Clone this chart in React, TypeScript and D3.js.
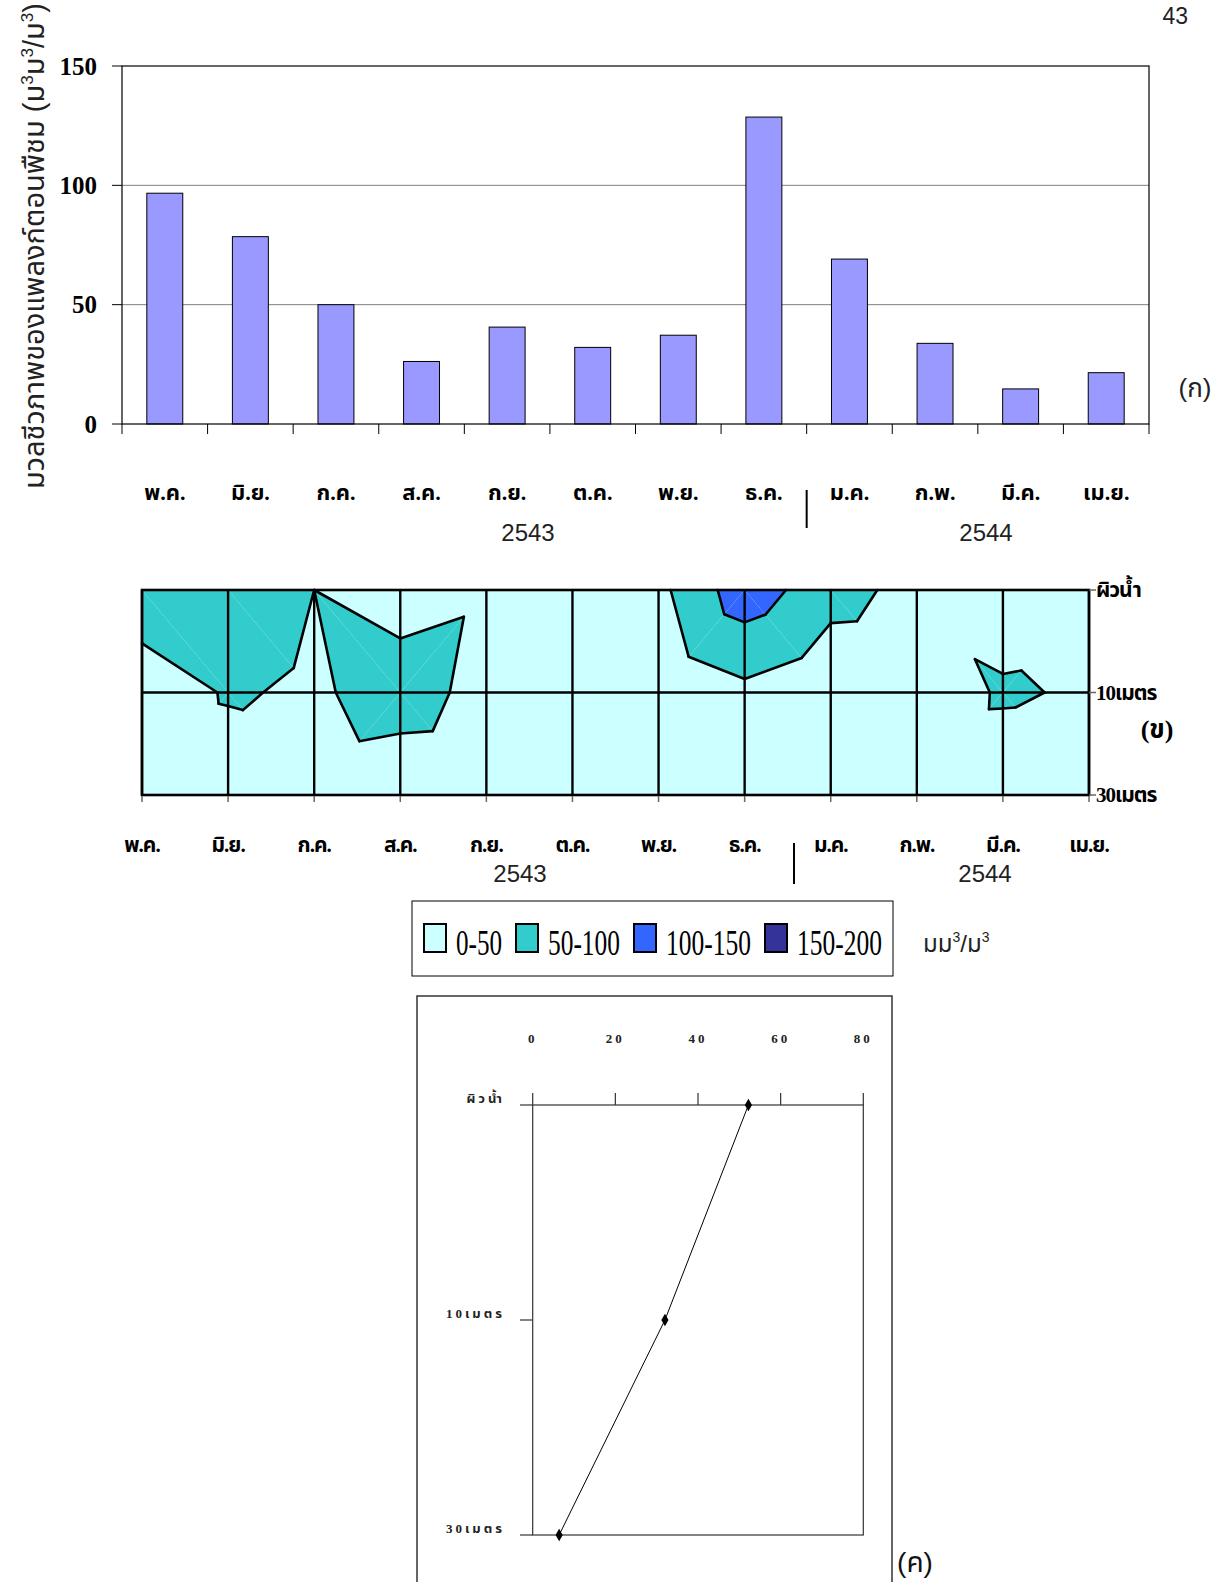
import React, { useEffect, useRef } from "react";
import * as d3 from "d3";

// เดือน (ก) และ (ข)
const months = ["พ.ค.", "มิ.ย.", "ก.ค.", "ส.ค.", "ก.ย.", "ต.ค.", "พ.ย.", "ธ.ค.", "ม.ค.", "ก.พ.", "มี.ค.", "เม.ย."];
const years = ["2543", "2544"];
const yTicks = [0, 50, 100, 150];

// (ก) มวลชีวภาพที่ผิวน้ำ
const biomass = [96.7, 78.5, 50, 26.2, 40.6, 32.1, 37.2, 128.6, 69.1, 33.8, 14.7, 21.5];

// (ข) ค่าที่ระดับความลึก (ผิวน้ำ = biomass)
const depthLabels = ["ผิวน้ำ", "10เมตร", "30เมตร"];
const depth10 = [6.9, 56.1, 41.1, 76.6, 30.3, 11, 7.8, 38, 10, 6.5, 57.8, 41.7];
const depth30 = [0.5, 9.5, 20.6, 10.1, 6.0, 3, 2, 2, 2, 9.6, 7.8, 4.4];
const levels = [0, 50, 100, 150, 200];
const bandLabels = ["0-50", "50-100", "100-150", "150-200"];
const bandColors = ["#ccffff", "#33cccc", "#3366ff", "#333399"];

// (ค) ค่าเฉลี่ยตามความลึก
const profile = [52.2, 32.0, 6.4];
const profileTicks = [0, 20, 40, 60, 80];

const THAI = "'Noto Sans Thai', 'Noto Serif Thai', 'Loma', 'Garuda', 'Norasi', 'Tlwg Typo'";
const SERIF = `'Liberation Serif', 'Times New Roman', ${THAI}, serif`;
const SANS = `'Liberation Sans', Arial, ${THAI}, sans-serif`;

type Pt = { x: number; y: number; v: number };

const clip = (poly: Pt[], lv: number, above: boolean) => {
  const out: Pt[] = [];
  for (let k = 0; k < poly.length; k++) {
    const a = poly[k];
    const b = poly[(k + 1) % poly.length];
    const ia = above ? a.v >= lv : a.v < lv;
    const ib = above ? b.v >= lv : b.v < lv;
    if (ia) out.push(a);
    if (ia !== ib) {
      const t = (lv - a.v) / (b.v - a.v);
      out.push({ x: a.x + t * (b.x - a.x), y: a.y + t * (b.y - a.y), v: lv });
    }
  }
  return out;
};

const App = () => {
  const svgRef = useRef<SVGSVGElement>(null);

  useEffect(() => {
    const svg = d3.select(svgRef.current);
    svg.selectAll("*").remove();

    svg.append("text").attr("x", 1188).attr("y", 24).attr("text-anchor", "end")
      .style("font-family", SANS).style("font-size", "23px").attr("fill", "#222").text("43");

    // ---------- (ก) bar chart ----------
    const x = d3.scaleBand().domain(months).range([122, 1149]);
    const y = d3.scaleLinear().domain([0, 150]).range([424, 66]);
    const gA = svg.append("g");

    gA.selectAll("line.grid").data([50, 100]).join("line")
      .attr("x1", 122).attr("x2", 1149).attr("y1", (d) => y(d)).attr("y2", (d) => y(d))
      .attr("stroke", "#808080").attr("stroke-width", 1);

    gA.selectAll("rect.bar").data(biomass).join("rect")
      .attr("x", (d, i) => x(months[i])! + x.bandwidth() * 0.29)
      .attr("width", x.bandwidth() * 0.42)
      .attr("y", (d) => y(d))
      .attr("height", (d) => y(0) - y(d))
      .attr("fill", "#9999ff").attr("stroke", "#000").attr("stroke-width", 1);

    gA.append("rect").attr("x", 122).attr("y", 66).attr("width", 1027).attr("height", 358)
      .attr("fill", "none").attr("stroke", "#000").attr("stroke-width", 1.2);

    gA.selectAll("line.yt").data(yTicks).join("line")
      .attr("x1", 112).attr("x2", 122).attr("y1", (d) => y(d)).attr("y2", (d) => y(d))
      .attr("stroke", "#000");
    gA.selectAll("text.yl").data(yTicks).join("text")
      .attr("x", 97).attr("y", (d) => y(d)).attr("dy", "0.35em").attr("text-anchor", "end")
      .style("font-family", SERIF).style("font-weight", "bold").style("font-size", "25px")
      .text((d) => d);

    const bounds = [...months.map((m) => x(m)!), 1149];
    gA.selectAll("line.xt").data(bounds).join("line")
      .attr("x1", (d) => d).attr("x2", (d) => d).attr("y1", 424).attr("y2", 434)
      .attr("stroke", "#000");

    gA.selectAll("text.xl").data(months).join("text")
      .attr("x", (d) => x(d)! + x.bandwidth() / 2).attr("y", 500).attr("text-anchor", "middle")
      .style("font-family", SERIF).style("font-weight", "bold").style("font-size", "22px")
      .text((d) => d);

    gA.append("line").attr("x1", x("ม.ค.")!).attr("x2", x("ม.ค.")!).attr("y1", 490).attr("y2", 528)
      .attr("stroke", "#000").attr("stroke-width", 2);
    gA.selectAll("text.yr").data(years).join("text")
      .attr("x", (d, i) => (i === 0 ? 528 : 986)).attr("y", 541).attr("text-anchor", "middle")
      .style("font-family", SANS).style("font-size", "24px").attr("fill", "#222")
      .text((d) => d);

    const title = gA.append("text").attr("transform", "translate(44,246) rotate(-90)")
      .attr("text-anchor", "middle").style("font-family", SANS).style("font-size", "29px")
      .attr("fill", "#222");
    title.append("tspan").text("มวลชีวภาพของแพลงก์ตอนพืชม (ม");
    title.append("tspan").attr("dy", -11).style("font-size", "17px").text("3");
    title.append("tspan").attr("dy", 11).text("ม");
    title.append("tspan").attr("dy", -11).style("font-size", "17px").text("3");
    title.append("tspan").attr("dy", 11).text("/ม");
    title.append("tspan").attr("dy", -11).style("font-size", "17px").text("3");
    title.append("tspan").attr("dy", 11).text(")");

    gA.append("text").attr("x", 1195).attr("y", 397).attr("text-anchor", "middle")
      .style("font-family", SANS).style("font-size", "26px").attr("fill", "#222").text("(ก)");

    // ---------- (ข) contour ----------
    const xc = d3.scalePoint().domain(months).range([142, 1089]);
    const yc = d3.scalePoint().domain(depthLabels).range([590, 795]);
    const rows = [biomass, depth10, depth30];
    const node = (i: number, j: number): Pt => ({ x: xc(months[i])!, y: yc(depthLabels[j])!, v: rows[j][i] });

    const tris: Pt[][] = [];
    for (let j = 0; j < rows.length - 1; j++) {
      for (let i = 0; i < months.length - 1; i++) {
        const tl = node(i, j), tr = node(i + 1, j), bl = node(i, j + 1), br = node(i + 1, j + 1);
        if (tl.v + br.v >= tr.v + bl.v) {
          tris.push([tl, tr, br], [tl, bl, br]);
        } else {
          tris.push([tl, tr, bl], [tr, br, bl]);
        }
      }
    }

    const gB = svg.append("g");
    const line = d3.line<Pt>().x((d) => d.x).y((d) => d.y).curve(d3.curveLinearClosed);
    const pieces: { pts: Pt[]; c: string }[] = [];
    tris.forEach((t) => {
      bandColors.forEach((c, k) => {
        let p = k === 0 ? t : clip(t, levels[k], true);
        if (p.length > 2) p = clip(p, levels[k + 1], false);
        if (p.length > 2) pieces.push({ pts: p, c });
      });
    });
    gB.selectAll("path.band").data(pieces).join("path")
      .attr("d", (d) => line(d.pts)).attr("fill", (d) => d.c);

    const segs: Pt[][] = [];
    tris.forEach((t) => {
      levels.slice(1, 4).forEach((lv) => {
        const pts: Pt[] = [];
        t.forEach((a, k) => {
          const b = t[(k + 1) % 3];
          if (a.v === lv) pts.push(a);
          else if ((a.v - lv) * (b.v - lv) < 0) {
            const r = (lv - a.v) / (b.v - a.v);
            pts.push({ x: a.x + r * (b.x - a.x), y: a.y + r * (b.y - a.y), v: lv });
          }
        });
        if (pts.length === 2) segs.push(pts);
      });
    });
    gB.selectAll("line.cl").data(segs).join("line")
      .attr("x1", (d) => d[0].x).attr("y1", (d) => d[0].y).attr("x2", (d) => d[1].x).attr("y2", (d) => d[1].y)
      .attr("stroke", "#000").attr("stroke-width", 2.6).attr("stroke-linecap", "round");

    gB.selectAll("line.vg").data(months).join("line")
      .attr("x1", (d) => xc(d)!).attr("x2", (d) => xc(d)!).attr("y1", 590).attr("y2", 795)
      .attr("stroke", "#000").attr("stroke-width", 2.4);
    gB.append("line").attr("x1", 142).attr("x2", 1089).attr("y1", yc("10เมตร")!).attr("y2", yc("10เมตร")!)
      .attr("stroke", "#000").attr("stroke-width", 2.4);
    gB.append("rect").attr("x", 142).attr("y", 590).attr("width", 947).attr("height", 205)
      .attr("fill", "none").attr("stroke", "#000").attr("stroke-width", 2.6);

    gB.selectAll("line.bt").data(months).join("line")
      .attr("x1", (d) => xc(d)!).attr("x2", (d) => xc(d)!).attr("y1", 796).attr("y2", 802)
      .attr("stroke", "#666").attr("stroke-width", 1.5);
    gB.selectAll("line.rt").data(depthLabels).join("line")
      .attr("x1", 1089).attr("x2", 1096).attr("y1", (d) => yc(d)!).attr("y2", (d) => yc(d)!)
      .attr("stroke", "#666").attr("stroke-width", 1.5);
    gB.selectAll("text.rl").data(depthLabels).join("text")
      .attr("x", 1096).attr("y", (d) => yc(d)!).attr("dy", "0.35em")
      .style("font-family", SERIF).style("font-weight", "bold").style("font-size", "21px")
      .style("letter-spacing", "-1px").text((d) => d);

    gB.selectAll("text.ml").data(months).join("text")
      .attr("x", (d) => xc(d)!).attr("y", 852).attr("text-anchor", "middle")
      .style("font-family", SERIF).style("font-weight", "bold").style("font-size", "21px")
      .style("letter-spacing", "-1px").text((d) => d);
    gB.append("line").attr("x1", 794).attr("x2", 794).attr("y1", 843).attr("y2", 884)
      .attr("stroke", "#000").attr("stroke-width", 2);
    gB.selectAll("text.yr").data(years).join("text")
      .attr("x", (d, i) => (i === 0 ? 520 : 985)).attr("y", 882).attr("text-anchor", "middle")
      .style("font-family", SANS).style("font-size", "24px").attr("fill", "#222")
      .text((d) => d);
    gB.append("text").attr("x", 1157).attr("y", 738).attr("text-anchor", "middle")
      .style("font-family", SERIF).style("font-weight", "bold").style("font-size", "26px").text("(ข)");

    // ---------- legend ----------
    const gL = svg.append("g");
    gL.append("rect").attr("x", 412).attr("y", 901).attr("width", 481).attr("height", 75)
      .attr("fill", "none").attr("stroke", "#000").attr("stroke-width", 1);
    let cx = 424;
    bandLabels.forEach((lab, i) => {
      const w = lab.replace("-", "").length * 13 + 7;
      gL.append("rect").attr("x", cx).attr("y", 924).attr("width", 22).attr("height", 28)
        .attr("fill", bandColors[i]).attr("stroke", "#000").attr("stroke-width", 2);
      gL.append("text").attr("x", cx + 32).attr("y", 955).attr("textLength", w)
        .attr("lengthAdjust", "spacingAndGlyphs")
        .style("font-family", SERIF).style("font-size", "36px").text(lab);
      cx += 32 + w + 14;
    });
    const unit = gL.append("text").attr("x", 923).attr("y", 952)
      .style("font-family", SANS).style("font-size", "24px").attr("fill", "#222");
    unit.append("tspan").text("มม");
    unit.append("tspan").attr("dy", -10).style("font-size", "14px").text("3");
    unit.append("tspan").attr("dy", 10).text("/ม");
    unit.append("tspan").attr("dy", -10).style("font-size", "14px").text("3");

    // ---------- (ค) profile ----------
    const gC = svg.append("g");
    const xp = d3.scaleLinear().domain([0, 80]).range([532.7, 863.3]);
    const yp = d3.scalePoint().domain(depthLabels).range([1105, 1535]);
    gC.append("rect").attr("x", 417).attr("y", 996).attr("width", 475).attr("height", 620)
      .attr("fill", "none").attr("stroke", "#333").attr("stroke-width", 1.5);
    gC.append("rect").attr("x", xp(0)).attr("y", yp("ผิวน้ำ")!).attr("width", xp(80) - xp(0))
      .attr("height", yp("30เมตร")! - yp("ผิวน้ำ")!)
      .attr("fill", "none").attr("stroke", "#333").attr("stroke-width", 1.2);
    gC.selectAll("line.tt").data(profileTicks).join("line")
      .attr("x1", (d) => xp(d)).attr("x2", (d) => xp(d)).attr("y1", 1093).attr("y2", 1105)
      .attr("stroke", "#333").attr("stroke-width", 1.2);
    gC.selectAll("line.lt").data(depthLabels).join("line")
      .attr("x1", 520).attr("x2", xp(0)).attr("y1", (d) => yp(d)!).attr("y2", (d) => yp(d)!)
      .attr("stroke", "#333").attr("stroke-width", 1.2);
    gC.selectAll("text.tl").data(profileTicks).join("text")
      .attr("x", (d) => xp(d)).attr("y", 1043).attr("text-anchor", "middle")
      .style("font-family", SERIF).style("font-weight", "bold").style("font-size", "13px")
      .style("letter-spacing", "3px").attr("fill", "#222").text((d) => d);
    gC.selectAll("text.dl").data(depthLabels).join("text")
      .attr("x", 505).attr("y", (d) => yp(d)! - 2).attr("text-anchor", "end")
      .style("font-family", SERIF).style("font-weight", "bold").style("font-size", "13px")
      .style("letter-spacing", "3px").attr("fill", "#222").text((d) => d);

    const pline = d3.line<number>().x((d) => xp(d)).y((d, i) => yp(depthLabels[i])!);
    gC.append("path").attr("d", pline(profile)).attr("fill", "none")
      .attr("stroke", "#000").attr("stroke-width", 1);
    gC.selectAll("path.mk").data(profile).join("path")
      .attr("transform", (d, i) => `translate(${xp(d)},${yp(depthLabels[i])})`)
      .attr("d", d3.symbol(d3.symbolDiamond).size(45)()).attr("fill", "#000");

    gC.append("text").attr("x", 915).attr("y", 1572).attr("text-anchor", "middle")
      .style("font-family", SANS).style("font-size", "28px").attr("fill", "#111").text("(ค)");
  }, []);

  return (
    <>
      <style>{`body{margin:0}`}</style>
      <svg ref={svgRef} width={1226} height={1582} style={{ display: "block", background: "#fff" }} />
    </>
  );
};

export default App;
